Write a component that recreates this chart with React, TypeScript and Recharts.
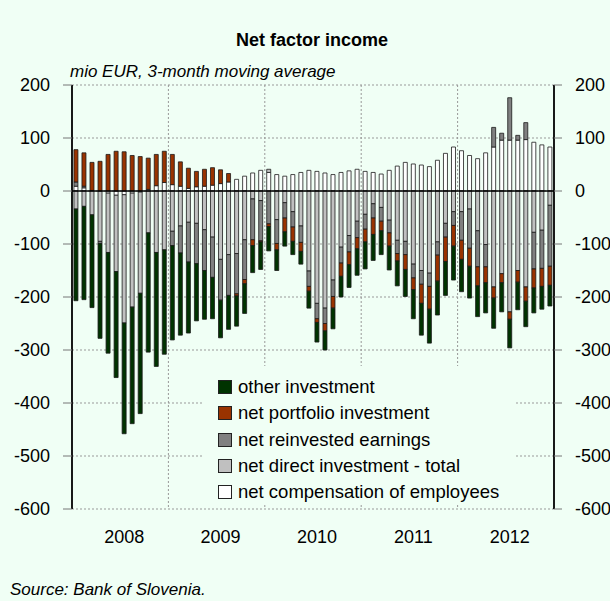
import React from 'react';
import { BarChart, Bar, XAxis, YAxis, CartesianGrid, ReferenceLine, Legend } from 'recharts';

const months = [
  '2008-01', '2008-02', '2008-03', '2008-04', '2008-05', '2008-06', '2008-07', '2008-08', '2008-09', '2008-10', '2008-11', '2008-12',
  '2009-01', '2009-02', '2009-03', '2009-04', '2009-05', '2009-06', '2009-07', '2009-08', '2009-09', '2009-10', '2009-11', '2009-12',
  '2010-01', '2010-02', '2010-03', '2010-04', '2010-05', '2010-06', '2010-07', '2010-08', '2010-09', '2010-10', '2010-11', '2010-12',
  '2011-01', '2011-02', '2011-03', '2011-04', '2011-05', '2011-06', '2011-07', '2011-08', '2011-09', '2011-10', '2011-11', '2011-12',
  '2012-01', '2012-02', '2012-03', '2012-04', '2012-05', '2012-06', '2012-07', '2012-08', '2012-09', '2012-10', '2012-11', '2012-12',
];

// net compensation of employees
const compensation = [
  9, 6, 1, 0, -4, -8, -7, -4, -2, 3, 10, 16,
  12, 9, 5, 8, 9, 11, 14, 17, 22, 28, 34, 39,
  35, 31, 28, 31, 35, 39, 37, 34, 31, 35, 38, 41,
  37, 35, 32, 39, 47, 54, 51, 49, 46, 58, 71, 83,
  76, 67, 61, 72, 83, 96, 96, 96, 97, 92, 87, 83,
];

// net direct investment - total
const direct = [
  -34, -29, -45, -95, -112, -144, -242, -215, -191, -79, -116, -111,
  -76, -66, -59, -61, -73, -87, -129, -120, -118, -92, -15, -18,
  6, -54, -22, -39, -66, -151, -212, -221, -168, -106, -84, -57,
  -44, -24, -31, -55, -93, -95, -138, -150, -155, -96, -61, -39,
  -39, -34, -75, -101, -181, -156, -228, -150, -181, -78, -74, -27,
];

// net reinvested earnings
const reinvested = [
  8, 3, 0, -4, 0, 0, 0, 0, 0, 0, 0, 0,
  -27, -51, -75, -76, -77, -76, -77, -77, -76, -75, -77, -76,
  -62, -45, -29, -29, -31, -29, -29, -29, -31, -30, -31, -31,
  -28, -27, -26, -24, -25, -25, -26, -26, -25, -25, -26, -26,
  -54, -74, -68, -42, 37, 13, 80, 9, 32, -69, -72, -115,
];

// net portfolio investment
const portfolio = [
  61, 63, 53, 56, 69, 75, 74, 67, 65, 59, 59, 59,
  57, 46, 38, 29, 32, 33, 26, 16, -4, -8, -11, -2,
  -5, -12, -26, -27, -17, -9, -7, -14, -22, -25, -24, -21,
  -24, -31, -18, -25, -14, -28, -22, -36, -43, -49, -46, -39,
  -36, -34, -36, -30, -21, -17, -14, -22, -27, -36, -34, -36,
];

// other investment
const other = [
  -173, -176, -175, -179, -190, -200, -209, -220, -227, -225, -215, -197,
  -178, -155, -134, -108, -92, -78, -71, -64, -57, -56, -51, -52,
  -46, -39, -27, -25, -24, -32, -37, -36, -39, -39, -43, -50,
  -51, -49, -45, -45, -47, -51, -55, -60, -64, -64, -64, -64,
  -61, -60, -58, -57, -57, -55, -54, -52, -48, -47, -43, -39,
];

const yearTicks = ['2008-07', '2009-07', '2010-07', '2011-07', '2012-07'];
const yTicks = [-600, -500, -400, -300, -200, -100, 0, 100, 200];

const data = months.map((month, i) => ({
  month,
  compensation: compensation[i],
  direct: direct[i],
  reinvested: reinvested[i],
  portfolio: portfolio[i],
  other: other[i],
}));

const COLORS = {
  other: '#003300',
  portfolio: '#993300',
  reinvested: '#808080',
  direct: '#C0C0C0',
  compensation: '#FFFFFF',
};

const legendItems = [
  { key: 'other', label: 'other investment' },
  { key: 'portfolio', label: 'net portfolio investment' },
  { key: 'reinvested', label: 'net reinvested earnings' },
  { key: 'direct', label: 'net direct investment - total' },
  { key: 'compensation', label: 'net compensation of employees' },
];

const BG = '#F0FFF5';
const FONT = '"Liberation Sans", Arial, sans-serif';

function LegendBox() {
  return (
    <div style={{ background: BG, paddingTop: 8, paddingLeft: 15, fontFamily: FONT }}>
      {legendItems.map((it) => (
        <div key={it.key} style={{ display: 'flex', alignItems: 'center', height: 26.3 }}>
          <span
            style={{
              display: 'inline-block',
              width: 12,
              height: 12,
              background: COLORS[it.key as keyof typeof COLORS],
              border: '1px solid #222',
              marginRight: 6,
            }}
          />
          <span style={{ fontSize: 18.5, color: '#000' }}>{it.label}</span>
        </div>
      ))}
    </div>
  );
}

export default function App() {
  const tickStyle = { fontSize: 18, fill: '#000', fontFamily: FONT };
  return (
    <div style={{ position: 'absolute', left: 0, top: 0, width: 610, height: 601, background: BG, fontFamily: FONT }}>
      <div style={{ position: 'absolute', left: 236, top: 29, fontSize: 18, fontWeight: 'bold', lineHeight: '22px' }}>
        Net factor income
      </div>
      <div style={{ position: 'absolute', left: 70, top: 62, fontSize: 17, fontStyle: 'italic', lineHeight: '20px' }}>
        mio EUR, 3-month moving average
      </div>
      <div style={{ position: 'absolute', left: 10, top: 580, fontSize: 17, fontStyle: 'italic', lineHeight: '20px' }}>
        Source: Bank of Slovenia.
      </div>
      <BarChart
        width={610}
        height={601}
        data={data}
        stackOffset="sign"
        barCategoryGap="24%"
        margin={{ top: 85, right: 0, bottom: 0, left: 0 }}
        style={{ position: 'absolute', left: 0, top: 0 }}
      >
        <CartesianGrid
          stroke="#999"
          strokeDasharray="2 2"
          verticalCoordinatesGenerator={({ offset }: any) =>
            [1, 2, 3, 4].map((k) => offset.left + (offset.width * k) / 5)
          }
        />
        <XAxis
          dataKey="month"
          ticks={yearTicks}
          interval={0}
          tickFormatter={(m: string) => m.slice(0, 4)}
          axisLine={false}
          tickLine={false}
          tickSize={0}
          tickMargin={21}
          height={92}
          tick={tickStyle}
        />
        <YAxis
          domain={[-600, 200]}
          ticks={yTicks}
          width={72}
          tickSize={9}
          tickMargin={13}
          stroke="#000"
          axisLine={{ stroke: '#000', strokeWidth: 1.8 }}
          tickLine={{ stroke: '#777' }}
          tick={tickStyle}
          allowDataOverflow
        />
        <YAxis
          yAxisId="right"
          orientation="right"
          domain={[-600, 200]}
          ticks={yTicks}
          width={56}
          tickSize={8}
          tickMargin={13}
          stroke="#000"
          axisLine={{ stroke: '#000', strokeWidth: 1.8 }}
          tickLine={{ stroke: '#777' }}
          tick={tickStyle}
          allowDataOverflow
        />
        <Bar dataKey="compensation" stackId="a" fill={COLORS.compensation} stroke="#1a1a1a" strokeWidth={0.8} isAnimationActive={false} />
        <Bar dataKey="direct" stackId="a" fill={COLORS.direct} stroke="#1a1a1a" strokeWidth={0.8} isAnimationActive={false} />
        <Bar dataKey="reinvested" stackId="a" fill={COLORS.reinvested} stroke="#1a1a1a" strokeWidth={0.8} isAnimationActive={false} />
        <Bar dataKey="portfolio" stackId="a" fill={COLORS.portfolio} stroke="#1a1a1a" strokeWidth={0.8} isAnimationActive={false} />
        <Bar dataKey="other" stackId="a" fill={COLORS.other} stroke="#1a1a1a" strokeWidth={0.8} isAnimationActive={false} />
        <ReferenceLine y={0} stroke="#000" strokeWidth={1.3} />
        <Legend
          layout="vertical"
          align="center"
          verticalAlign="middle"
          wrapperStyle={{ position: 'absolute', left: 203, top: 366, width: 312, height: 132 }}
          content={() => <LegendBox />}
        />
      </BarChart>
    </div>
  );
}
